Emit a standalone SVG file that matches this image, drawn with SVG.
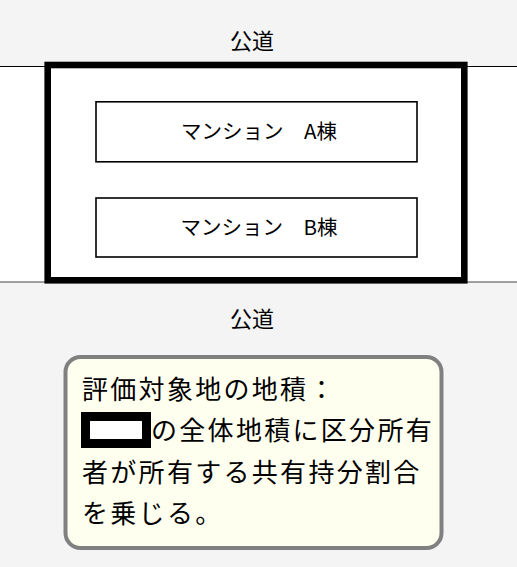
<svg xmlns="http://www.w3.org/2000/svg" width="517" height="567" viewBox="0 0 517 567">
<style>
text{font-family:"Noto Sans CJK JP","Liberation Sans",sans-serif;fill:#000}
.road{font-size:22px;text-anchor:middle}
.bld{font-size:20.5px;text-anchor:middle}
.note{font-size:26px;letter-spacing:2.3px}
.box{fill:#fff;stroke:#000;stroke-width:1.6}
</style>
<rect width="517" height="567" fill="#f4f4f4"/>
<g id="site">
<rect x="0" y="67" width="517" height="215" fill="#fff"/>
<line x1="0" y1="66.5" x2="517" y2="66.5" stroke="#000" stroke-width="1.2"/>
<line x1="0" y1="282" x2="517" y2="282" stroke="#808080" stroke-width="1.6"/>
<rect x="47.7" y="65" width="416.6" height="215.3" fill="#fff" stroke="#000" stroke-width="6.6"/>
</g>
<g id="road-top"><text class="road" x="252" y="49">公道</text></g>
<g id="road-bottom"><text class="road" x="252" y="327">公道</text></g>
<g id="bldA">
<rect class="box" x="96" y="101.8" width="321" height="60"/>
<text class="bld" x="259" y="139">マンション　A棟</text>
</g>
<g id="bldB">
<rect class="box" x="96" y="198" width="321" height="59"/>
<text class="bld" x="259" y="235">マンション　B棟</text>
</g>
<g id="note">
<rect x="65.5" y="357" width="376" height="191" rx="15" ry="15" fill="#fffff0" stroke="#808080" stroke-width="4"/>
<text class="note" x="82" y="399">評価対象地の地積：</text>
<rect x="85.5" y="416.5" width="61" height="27" fill="#fff" stroke="#000" stroke-width="9"/>
<text class="note" x="151" y="440">の全体地積に区分所有</text>
<text class="note" x="82" y="482">者が所有する共有持分割合</text>
<text class="note" x="82" y="523">を乗じる。</text>
</g>
</svg>
